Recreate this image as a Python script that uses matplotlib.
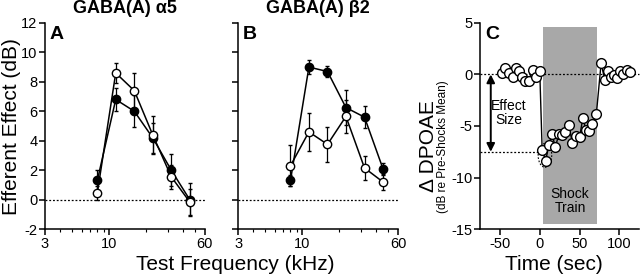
import matplotlib
matplotlib.use("Agg")
import matplotlib.pyplot as plt
from matplotlib.patches import Ellipse, Rectangle
from matplotlib.ticker import FixedLocator, NullFormatter
import numpy as np

plt.rcParams['font.family'] = ['Liberation Sans', 'DejaVu Sans']
plt.rcParams['axes.unicode_minus'] = False

# ---------------- data ----------------
freqs = [8.0, 11.3, 16.0, 22.6, 32.0, 45.2]

a5_filled = [1.3, 6.8, 6.0, 4.2, 2.0, 0.0]
a5_filled_err = [0.7, 0.8, 1.1, 1.0, 1.1, 1.1]
a5_open = [0.45, 8.6, 7.4, 4.4, 1.55, -0.15]
a5_open_err = [0.5, 0.7, 1.2, 1.3, 0.8, 0.9]

b2_filled = [1.3, 9.0, 8.7, 6.25, 5.6, 2.1]
b2_filled_err = [0.4, 0.45, 0.4, 1.2, 0.75, 0.4]
b2_open = [2.3, 4.6, 3.75, 5.65, 2.15, 1.2]
b2_open_err = [1.4, 1.3, 1.2, 1.1, 0.8, 0.55]

time_s = [-48, -43.5, -38.5, -34, -30, -26, -22, -18, -14, -9, -5, 0,
          3, 7.5, 11.5, 15.5, 19.5, 24, 28, 32, 36.5, 41, 45.5, 50, 54, 58, 62, 66, 71,
          77, 81.5, 85.5, 89.5, 93.5, 97, 101, 105, 109, 113]
dpoae = [0.15, 0.6, 0.1, -0.25, 0.6, 0.3, -0.2, -0.65, -0.6, 0.45, -0.25, 0.3,
         -7.3, -8.35, -6.8, -5.8, -7.05, -5.8, -5.9, -5.6, -4.95, -6.65, -5.95, -6.1, -4.25, -5.35, -5.45, -4.85, -3.85,
         1.1, -0.5, 0.3, -0.25, -0.05, -0.35, 0.3, 0.0, 0.45, 0.2]
shock_start, shock_end = 4, 72
effect_size = -7.5

# ---------------- figure ----------------
fig = plt.figure(figsize=(6.4, 2.76), dpi=100)
bot, top = 0.170, 0.917
axA = fig.add_axes([0.0703, bot, 0.2497, top - bot])
axB = fig.add_axes([0.372, bot, 0.25, top - bot])
axC = fig.add_axes([0.75, bot, 0.249, top - bot])

lw = 1.1
def style(ax):
    for s in ['top', 'right']:
        ax.spines[s].set_visible(False)
    for s in ['left', 'bottom']:
        ax.spines[s].set_linewidth(lw)
    ax.tick_params(which='major', direction='out', length=4, width=lw, labelsize=10.5, pad=1.5)
    ax.tick_params(which='minor', direction='out', length=2.5, width=0.8)

def freq_panel(ax, yf, ef, yo, eo, letter, title, showy):
    style(ax)
    ax.set_xscale('log')
    ax.set_xlim(3, 60)
    ax.set_ylim(-2, 12)
    ax.axhline(0, color='black', lw=0.9, ls=(0, (1.5, 1.5)), zorder=1)
    ax.errorbar(freqs, yf, yerr=ef, color='black', lw=1.1, elinewidth=0.9, capsize=1.5,
                marker='o', ms=6, mfc='black', mec='black', zorder=3)
    ax.errorbar(freqs, yo, yerr=eo, color='black', lw=1.1, elinewidth=0.9, capsize=1.5,
                marker='o', ms=6, mfc='white', mec='black', mew=1.0, zorder=4)
    ax.xaxis.set_major_locator(FixedLocator([3, 10, 60]))
    ax.xaxis.set_major_formatter(plt.FixedFormatter(['3', '10', '60']))
    ax.xaxis.set_minor_locator(FixedLocator([4, 5, 6, 7, 8, 9, 20, 30, 40, 50]))
    ax.xaxis.set_minor_formatter(NullFormatter())
    ax.set_yticks(np.arange(-2, 13, 2))
    if not showy:
        ax.set_yticklabels([])
    ax.text(0.03, 0.985, letter, transform=ax.transAxes, fontsize=14, fontweight='bold',
            va='top', ha='left')
    ax.set_title(title, fontsize=13, fontweight='bold', pad=7)

freq_panel(axA, a5_filled, a5_filled_err, a5_open, a5_open_err, 'A', 'GABA(A) α5', True)
freq_panel(axB, b2_filled, b2_filled_err, b2_open, b2_open_err, 'B', 'GABA(A) β2', False)

fig.text(0.367, 0.022, 'Test Frequency (kHz)', fontsize=15, ha='center', va='baseline')
fig.text(0.018, 0.54, 'Efferent Effect (dB)', fontsize=15, ha='center', va='center', rotation=90)

# ---------------- panel C ----------------
style(axC)
axC.set_xlim(-75, 125)
axC.set_ylim(-15, 5)
axC.set_xticks([-50, 0, 50, 100])
axC.set_yticks([-15, -10, -5, 0, 5])
axC.add_patch(Rectangle((shock_start, -14.5), shock_end - shock_start, 19.1,
                        facecolor='#a8a8a8', edgecolor='none', zorder=0))
axC.plot([-75, 125], [0, 0], color='black', lw=0.9, ls=(0, (1.5, 1.5)), zorder=1, clip_on=False)
axC.plot([-75, shock_start], [effect_size, effect_size], color='black', lw=0.9,
         ls=(0, (1.5, 1.5)), zorder=1)
axC.plot(time_s, dpoae, color='black', lw=1.0, marker='o', ms=7, mfc='white',
         mec='black', mew=1.0, zorder=3, clip_on=False)
axC.add_patch(Ellipse((6.5, -7.85), 17, 2.3, fill=False, edgecolor='black', lw=0.8,
                      ls=(0, (1.5, 1.5)), zorder=2))
axC.annotate('', xy=(-61.5, effect_size), xytext=(-61.5, 0),
             arrowprops=dict(arrowstyle='<|-|>', color='black', lw=1.4,
                             mutation_scale=12, shrinkA=0, shrinkB=0))
axC.text(-39, -3.7, 'Effect\nSize', fontsize=10, ha='center', va='center', linespacing=1.0)
axC.text(38, -12.3, 'Shock\nTrain', fontsize=10, ha='center', va='center', linespacing=1.0)
axC.text(0.03, 0.985, 'C', transform=axC.transAxes, fontsize=14, fontweight='bold',
         va='top', ha='left')
fig.text(0.866, 0.022, 'Time (sec)', fontsize=15, ha='center', va='baseline')
fig.text(0.670, 0.47, 'Δ DPOAE', fontsize=15, ha='center', va='center', rotation=90)
fig.text(0.692, 0.47, '(dB re Pre-Shocks Mean)', fontsize=8.5, ha='center', va='center',
         rotation=90)

fig.savefig('out.png', dpi=100)
